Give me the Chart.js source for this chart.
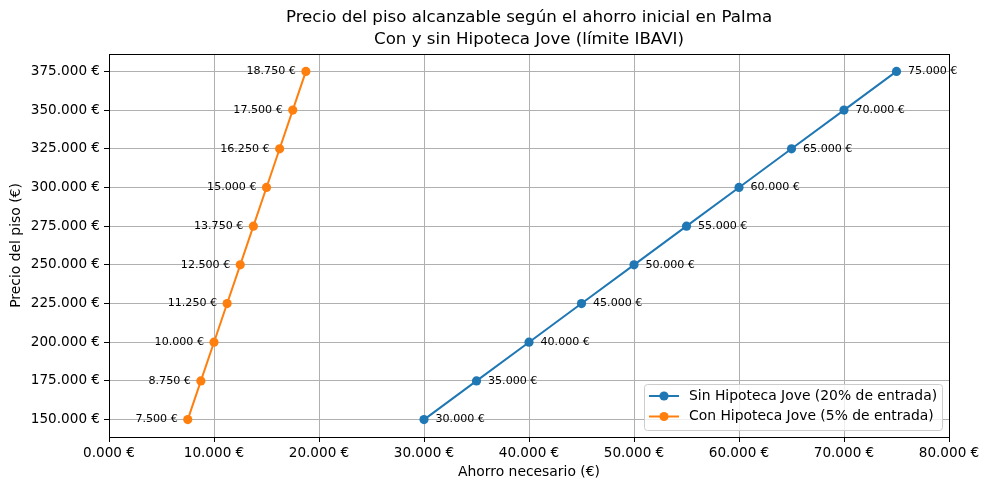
<!DOCTYPE html>
<html>
<head>
<meta charset="utf-8">
<script src="https://cdn.jsdelivr.net/npm/chart.js@4"></script>
<style>
  body { margin: 0; background: #fff; }
</style>
</head>
<body>
<canvas id="grafico" width="990" height="490"></canvas>
<script>
// datos
const ahorroSin = [30000, 35000, 40000, 45000, 50000, 55000, 60000, 65000, 70000, 75000];
const ahorroCon = [7500, 8750, 10000, 11250, 12500, 13750, 15000, 16250, 17500, 18750];
const precios = [150000, 175000, 200000, 225000, 250000, 275000, 300000, 325000, 350000, 375000];
const xTicks = [0, 10000, 20000, 30000, 40000, 50000, 60000, 70000, 80000];
const yTicks = [150000, 175000, 200000, 225000, 250000, 275000, 300000, 325000, 350000, 375000];
const nombres = ["Sin Hipoteca Jove (20% de entrada)", "Con Hipoteca Jove (5% de entrada)"];
const titulo = ["Precio del piso alcanzable según el ahorro inicial en Palma", "Con y sin Hipoteca Jove (límite IBAVI)"];

const FUENTE = "'DejaVu Sans', sans-serif";
const AZUL = "#1f77b4";
const NARANJA = "#ff7f0e";
const RADIO = 4.6;

// formato tipo "10.000 €"
function euros(v) {
  return (v / 1000).toFixed(3) + " €";
}

// etiquetas de cada punto (azul a la derecha, naranja a la izquierda)
const etiquetas = {
  id: "etiquetas",
  afterDatasetsDraw(chart) {
    const ctx = chart.ctx;
    ctx.save();
    ctx.font = "11.1px " + FUENTE;
    ctx.fillStyle = "#000";
    ctx.textBaseline = "middle";
    chart.data.datasets.forEach((ds, i) => {
      const meta = chart.getDatasetMeta(i);
      meta.data.forEach((p, j) => {
        const v = ds.data[j].x;
        if (i === 0) {
          ctx.textAlign = "left";
          ctx.fillText(euros(v), p.x + 11.5, p.y);
        } else {
          ctx.textAlign = "right";
          ctx.fillText(euros(v), p.x - 10, p.y);
        }
      });
    });
    ctx.restore();
  },
};

// titulo centrado sobre el area del grafico, caja negra y leyenda abajo a la derecha
const marco = {
  id: "marco",
  afterDraw(chart) {
    const ctx = chart.ctx;
    const a = chart.chartArea;
    ctx.save();

    ctx.fillStyle = "#000";
    ctx.font = "16.67px " + FUENTE;
    ctx.textAlign = "center";
    ctx.textBaseline = "middle";
    const cx = (a.left + a.right) / 2;
    ctx.fillText(titulo[0], cx, 18);
    ctx.fillText(titulo[1], cx, 40);

    ctx.strokeStyle = "#000";
    ctx.lineWidth = 1;
    ctx.strokeRect(a.left + 0.5, a.top + 0.5, a.right - a.left, a.bottom - a.top);

    // leyenda
    const w = 298, h = 46;
    const x0 = a.right - 7 - w, y0 = a.bottom - 7 - h;
    ctx.fillStyle = "rgba(255,255,255,0.8)";
    ctx.strokeStyle = "#cccccc";
    ctx.beginPath();
    ctx.roundRect(x0 + 0.5, y0 + 0.5, w, h, 3);
    ctx.fill();
    ctx.stroke();
    ctx.font = "13.9px " + FUENTE;
    ctx.textAlign = "left";
    ctx.textBaseline = "middle";
    chart.data.datasets.forEach((ds, i) => {
      const yy = y0 + 12 + i * 20.5;
      ctx.strokeStyle = ds.borderColor;
      ctx.lineWidth = 2;
      ctx.beginPath();
      ctx.moveTo(x0 + 5, yy);
      ctx.lineTo(x0 + 35, yy);
      ctx.stroke();
      ctx.fillStyle = ds.borderColor;
      ctx.beginPath();
      ctx.arc(x0 + 20, yy, RADIO, 0, Math.PI * 2);
      ctx.fill();
      ctx.fillStyle = "#000";
      ctx.fillText(ds.label, x0 + 45, yy);
    });
    ctx.restore();
  },
};

const rejilla = { color: "#b0b0b0", lineWidth: 1, tickColor: "#000", tickLength: 5 };

new Chart(document.getElementById("grafico"), {
  type: "line",
  data: {
    datasets: [
      {
        label: nombres[0],
        data: ahorroSin.map((x, i) => ({ x: x, y: precios[i] })),
        borderColor: AZUL,
        backgroundColor: AZUL,
        borderWidth: 2,
        pointRadius: RADIO,
        pointBorderWidth: 0,
        pointHoverRadius: RADIO,
        tension: 0,
      },
      {
        label: nombres[1],
        data: ahorroCon.map((x, i) => ({ x: x, y: precios[i] })),
        borderColor: NARANJA,
        backgroundColor: NARANJA,
        borderWidth: 2,
        pointRadius: RADIO,
        pointBorderWidth: 0,
        pointHoverRadius: RADIO,
        tension: 0,
      },
    ],
  },
  options: {
    responsive: false,
    animation: false,
    devicePixelRatio: 1,
    layout: { padding: { left: 0, right: 41, top: 54, bottom: 0 } },
    plugins: {
      legend: { display: false },
      tooltip: { enabled: false },
      title: { display: false },
    },
    scales: {
      x: {
        type: "linear",
        min: 0,
        max: 80000,
        afterBuildTicks: (s) => { s.ticks = xTicks.map((v) => ({ value: v })); },
        afterFit: (s) => { s.height = 53; },
        grid: rejilla,
        border: { display: true, color: "#000" },
        ticks: {
          color: "#000",
          font: { family: FUENTE, size: 13.6 },
          padding: 3,
          maxRotation: 0,
          callback: (v) => euros(v),
        },
        title: {
          display: true,
          text: "Ahorro necesario (€)",
          color: "#000",
          font: { family: FUENTE, size: 13.9 },
          padding: { top: 4, bottom: 9 },
        },
      },
      y: {
        type: "linear",
        min: 138750,
        max: 386250,
        afterBuildTicks: (s) => { s.ticks = yTicks.map((v) => ({ value: v })); },
        afterFit: (s) => { s.width = 109; },
        grid: rejilla,
        border: { display: true, color: "#000" },
        ticks: {
          color: "#000",
          font: { family: FUENTE, size: 13.6 },
          padding: 4,
          callback: (v) => euros(v),
        },
        title: {
          display: true,
          text: "Precio del piso (€)",
          color: "#000",
          font: { family: FUENTE, size: 13.9 },
          padding: { top: 8, bottom: 4 },
        },
      },
    },
  },
  plugins: [etiquetas, marco],
});
</script>
</body>
</html>
